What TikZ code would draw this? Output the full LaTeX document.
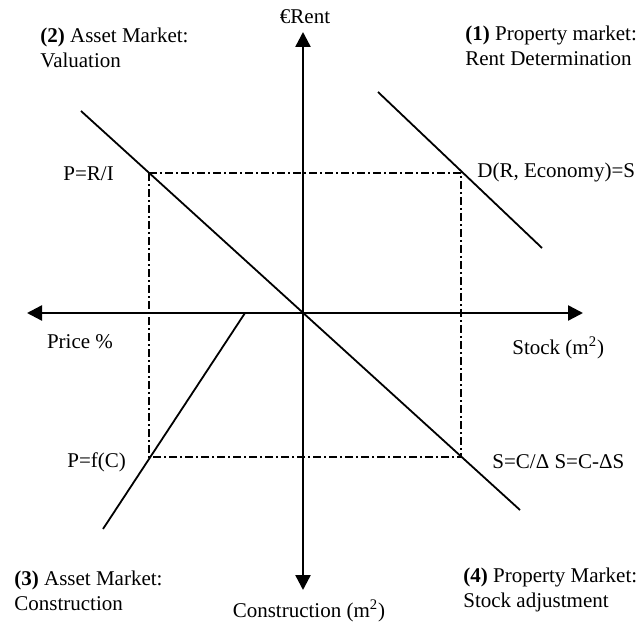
\documentclass[tikz,border=0pt]{standalone}
\usepackage{fontspec}
\setmainfont{Liberation Serif}
\usetikzlibrary{arrows.meta}
\tikzset{
  axis/.style={line width=1.2pt, -{Triangle[length=7.5pt,width=7.5pt]}},
  curve/.style={line width=0.9pt},
  guide/.style={line width=0.8pt, dash pattern=on 4pt off 1.5pt on 1pt off 1.5pt},
  lbl/.style={font=\fontsize{10.5}{12.5}\selectfont, inner sep=0pt, align=left},
}

\begin{document}
\begin{tikzpicture}[x=0.5pt, y=-0.5pt]
\useasboundingbox (0,0) rectangle (641,624);
% axes
\coordinate (o) at (303,313);
\coordinate (rtop) at (303,32);
\coordinate (cbot) at (303,590);
\coordinate (pleft) at (27,313);
\coordinate (sright) at (583,313);
\draw[axis] (o) -- (rtop);
\draw[axis] (o) -- (cbot);
\draw[axis] (o) -- (pleft);
\draw[axis] (o) -- (sright);
% market lines
\coordinate (val1) at (81,111);
\coordinate (val2) at (520,510);
\coordinate (dem1) at (378,92);
\coordinate (dem2) at (542,248);
\coordinate (con1) at (245,313);
\coordinate (con2) at (103,529);
\draw[curve] (val1) -- (val2);
\draw[curve] (dem1) -- (dem2);
\draw[curve] (con1) -- (con2);
% equilibrium loop
\coordinate (c1) at (149,173);
\coordinate (c2) at (461,173);
\coordinate (c3) at (461,457);
\coordinate (c4) at (149,457);
\draw[guide] (c1) -- (c2) -- (c3) -- (c4) -- cycle;
% labels
\node[lbl] (rent) at (305,17) {€Rent};
\node[lbl] (constr) at (309,611) {Construction (m\textsuperscript{2})};
\node[lbl] (price) at (80,342) {Price \%};
\node[lbl, anchor=west] (stock) at (512,348) {Stock (m\textsuperscript{2})};
\node[lbl, anchor=west] (pri) at (63,174) {P=R/I};
\node[lbl, anchor=west] (pfc) at (67,462) {P=f(C)};
\node[lbl, anchor=west] (drs) at (477,172) {D(R, Economy)=S};
\node[lbl, anchor=west] (scd) at (492,462) {S=C/Δ S=C-ΔS};
\node[lbl, anchor=north west] (q1) at (465,26) {\textbf{(1)} Property market:\\Rent Determination};
\node[lbl, anchor=north west] (q2) at (40,28) {\textbf{(2)} Asset Market:\\Valuation};
\node[lbl, anchor=north west] (q3) at (14,571) {\textbf{(3)} Asset Market:\\Construction};
\node[lbl, anchor=north west] (q4) at (463,568) {\textbf{(4)} Property Market:\\Stock adjustment};
\end{tikzpicture}
\end{document}
